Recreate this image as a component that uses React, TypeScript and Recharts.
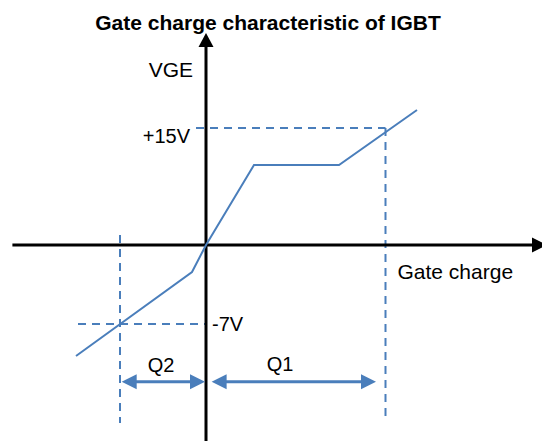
import { LineChart, Line, XAxis, YAxis, ReferenceLine, ReferenceDot } from "recharts";

// schematic units (not to scale)
const charge = [-13.0, -1.4, 0, 4.8, 13.3, 21.1];
const vge = [-11.1, -2.7, 0, 8.0, 8.0, 13.5];

const VGE_ON = 11.7; // "+15V"
const VGE_OFF = -7.9; // "-7V"
const Q1_END = 17.95;
const Q2_START = -8.6;

const data = charge.map((c, i) => ({ charge: c, vge: vge[i] }));

const BLUE = "#4a7ebb";
const FONT = "'Liberation Sans', Arial, sans-serif";

function arrowShape(color: string, sw: number, headLen: number, headW: number, both: boolean) {
  return (p: any) => {
    const { x1, y1, x2, y2 } = p;
    const len = Math.hypot(x2 - x1, y2 - y1) || 1;
    const ux = (x2 - x1) / len;
    const uy = (y2 - y1) / len;
    const head = (tx: number, ty: number, dx: number, dy: number) => {
      const bx = tx - dx * headLen;
      const by = ty - dy * headLen;
      const px = -dy * (headW / 2);
      const py = dx * (headW / 2);
      return `${tx},${ty} ${bx + px},${by + py} ${bx - px},${by - py}`;
    };
    const sx = both ? x1 + ux * (headLen - 1) : x1;
    const sy = both ? y1 + uy * (headLen - 1) : y1;
    return (
      <g>
        <line x1={sx} y1={sy} x2={x2 - ux * (headLen - 1)} y2={y2 - uy * (headLen - 1)} stroke={color} strokeWidth={sw} />
        <polygon points={head(x2, y2, ux, uy)} fill={color} />
        {both && <polygon points={head(x1, y1, -ux, -uy)} fill={color} />}
      </g>
    );
  };
}

function textShape(label: string, anchor: string, dx: number, dy: number, size = 20) {
  return (p: any) => (
    <text x={p.cx + dx} y={p.cy + dy} textAnchor={anchor} fontFamily={FONT} fontSize={size} fill="#000">
      {label}
    </text>
  );
}

const dashed = { stroke: BLUE, strokeWidth: 2, strokeDasharray: "8 6", ifOverflow: "visible" as const };

export default function App() {
  return (
    <div style={{ position: "absolute", left: 0, top: 0, width: 542, height: 441, background: "#fff" }}>
      <div
        style={{
          position: "absolute",
          left: 0,
          top: 11,
          width: 536,
          textAlign: "center",
          fontFamily: FONT,
          fontWeight: "bold",
          fontSize: 21,
          lineHeight: "24px",
        }}
      >
        Gate charge characteristic of IGBT
      </div>
      <LineChart width={542} height={441} data={data} margin={{ top: 0, right: 0, bottom: 0, left: 0 }}>
        <XAxis type="number" dataKey="charge" domain={[-20.6, 33.6]} hide allowDataOverflow />
        <YAxis type="number" domain={[-19.6, 24.5]} hide allowDataOverflow />

        {/* dashed guides */}
        <ReferenceLine segment={[{ x: -1.0, y: VGE_ON }, { x: Q1_END, y: VGE_ON }]} {...dashed} />
        <ReferenceLine segment={[{ x: Q1_END, y: VGE_ON }, { x: Q1_END, y: -17.2 }]} {...dashed} />
        <ReferenceLine segment={[{ x: -12.8, y: VGE_OFF }, { x: 0, y: VGE_OFF }]} {...dashed} />
        <ReferenceLine segment={[{ x: Q2_START, y: 1.0 }, { x: Q2_START, y: -17.8 }]} {...dashed} />

        {/* axes */}
        <ReferenceLine
          segment={[{ x: -19.36, y: 0 }, { x: 34.1, y: 0 }]}
          ifOverflow="visible"
          shape={arrowShape("#000", 3, 15, 15, false)}
        />
        <ReferenceLine
          segment={[{ x: 0, y: -19.6 }, { x: 0, y: 21.2 }]}
          ifOverflow="visible"
          shape={arrowShape("#000", 3, 14, 15, false)}
        />

        {/* Q1 / Q2 spans */}
        <ReferenceLine
          segment={[{ x: -8.43, y: -13.67 }, { x: -0.1, y: -13.67 }]}
          ifOverflow="visible"
          shape={arrowShape(BLUE, 3, 15, 15, true)}
        />
        <ReferenceLine
          segment={[{ x: 0.56, y: -13.67 }, { x: 17.0, y: -13.67 }]}
          ifOverflow="visible"
          shape={arrowShape(BLUE, 3, 15, 15, true)}
        />

        <Line
          type="linear"
          dataKey="vge"
          stroke={BLUE}
          strokeWidth={2}
          dot={false}
          activeDot={false}
          isAnimationActive={false}
        />

        {/* labels */}
        <ReferenceDot x={0} y={16.8} ifOverflow="visible" shape={textShape("VGE", "end", -13, 0, 21)} />
        <ReferenceDot x={0} y={VGE_ON} ifOverflow="visible" shape={textShape("+15V", "end", -16, 15)} />
        <ReferenceDot x={0} y={VGE_OFF} ifOverflow="visible" shape={textShape("-7V", "start", 6, 7)} />
        <ReferenceDot x={Q1_END} y={0} ifOverflow="visible" shape={textShape("Gate charge", "start", 12, 34, 21)} />
        <ReferenceDot x={-4.5} y={-13.67} ifOverflow="visible" shape={textShape("Q2", "middle", 0, -10)} />
        <ReferenceDot x={7.4} y={-13.67} ifOverflow="visible" shape={textShape("Q1", "middle", 0, -11)} />
      </LineChart>
    </div>
  );
}
